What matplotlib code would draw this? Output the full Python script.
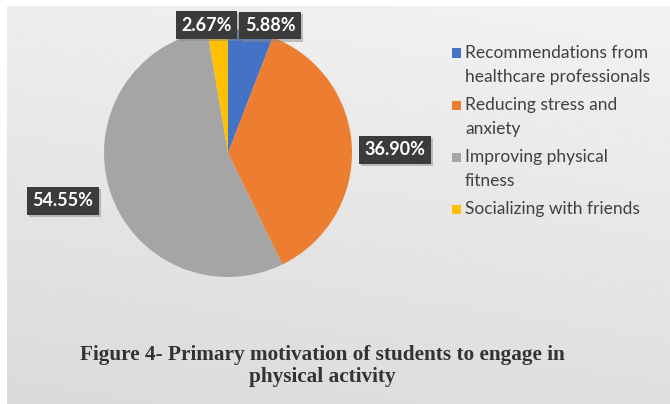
import matplotlib.pyplot as plt
import matplotlib.patheffects as pe
from matplotlib.patches import Rectangle
import numpy as np

categories = ["Recommendations from\nhealthcare professionals",
              "Reducing stress and\nanxiety",
              "Improving physical\nfitness",
              "Socializing with friends"]
shares = [5.88, 36.90, 54.55, 2.67]
colors = ["#4472C4", "#ED7D31", "#A5A5A5", "#FFC000"]
# where each percentage box sits relative to the slice edge (points)
label_offsets = [(14, 4), (31, -1.5), (-34, -7), (-8, 3)]

W, H = 670, 404
fig = plt.figure(figsize=(W / 100, H / 100), dpi=100, facecolor="white")

# soft grey backdrop, lighter towards the top right
bg = fig.add_axes([7 / W, 0, 1 - 7 / W, 1 - 6 / H])
yy, xx = np.mgrid[0:1:200j, 0:1:300j]
shade = 0.95 - 0.075 * yy - 0.02 * (1 - xx)
bg.imshow(shade, cmap="gray", vmin=0, vmax=1, aspect="auto",
          extent=[0, 1, 1, 0], interpolation="bilinear")
bg.axis("off")

# pie
r_px = 124
cx, cy = 228, 153
ax = fig.add_axes([(cx - r_px) / W, (H - cy - r_px) / H, 2 * r_px / W, 2 * r_px / H])
ax.patch.set_alpha(0)
wedges, _ = ax.pie(shares, colors=colors, startangle=90, counterclock=False,
                   radius=1, wedgeprops=dict(linewidth=0))
ax.set_xlim(-1, 1)
ax.set_ylim(-1, 1)

for w, val, off in zip(wedges, shares, label_offsets):
    mid = np.deg2rad((w.theta1 + w.theta2) / 2)
    ann = ax.annotate(f"{val:.2f}%", xy=(np.cos(mid), np.sin(mid)), xytext=off,
                      textcoords="offset points", ha="center", va="center",
                      fontsize=13, fontweight="bold", family="Lato", color="white",
                      bbox=dict(boxstyle="square,pad=0.3", fc="#3b3b3b", ec="none"),
                      annotation_clip=False)
    ann.get_bbox_patch().set_path_effects(
        [pe.SimplePatchShadow(offset=(1.5, -1.5), shadow_rgbFace="#8a8a8a", alpha=0.5),
         pe.Normal()])

# legend drawn line by line so the spacing follows the wrapped labels
lx, ly = 465, 53
line_h, gap = 24, 4
for c, label in zip(colors, categories):
    fig.add_artist(Rectangle(((lx - 13) / W, 1 - (ly + 4.5) / H), 9 / W, 9 / H,
                             transform=fig.transFigure, fc=c, ec="none"))
    for line in label.split("\n"):
        fig.text(lx / W, 1 - ly / H, line, ha="left", va="center",
                 family="Lato", fontsize=12.5, color="#404040")
        ly += line_h
    ly += gap

fig.text(322 / W, 1 - 366 / H,
         "Figure 4- Primary motivation of students to engage in\nphysical activity",
         ha="center", va="center", family="Liberation Serif", fontweight="bold",
         fontsize=15.3, color="#333333", linespacing=1.15)

fig.savefig("out.png", dpi=100, facecolor=fig.get_facecolor())
